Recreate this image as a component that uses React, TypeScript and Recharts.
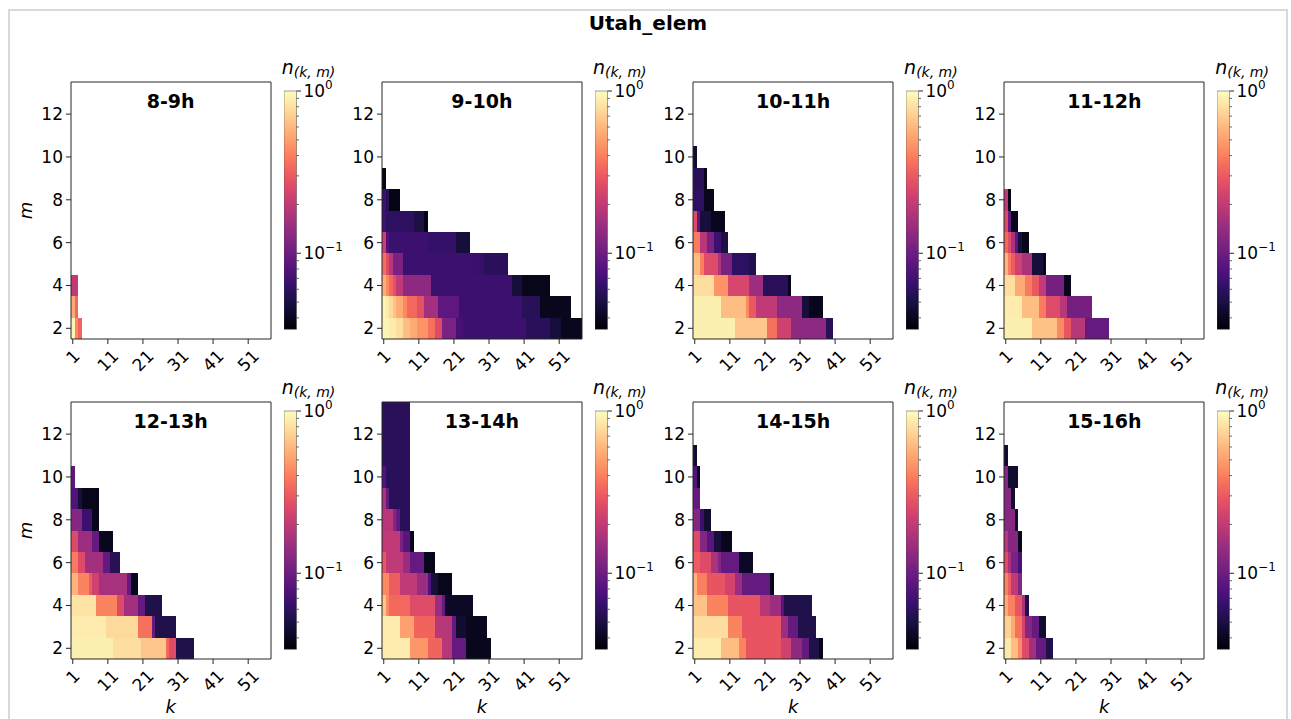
import React from 'react';
import { ScatterChart, Scatter, XAxis, YAxis, ReferenceArea } from 'recharts';

// each cell run: [m, first k, last k, n(k,m)]
type Run = [number, number, number, number];

const hours = ['8-9h', '9-10h', '10-11h', '11-12h', '12-13h', '13-14h', '14-15h', '15-16h'];

const h8_9: Run[] = [
  [4, 1, 2, 0.197],
  [3, 1, 1, 0.544], [3, 2, 2, 0.339],
  [2, 1, 1, 0.935], [2, 2, 2, 0.43], [2, 3, 3, 0.328],
];

const h9_10: Run[] = [
  [9, 1, 1, 0.038],
  [8, 1, 1, 0.067], [8, 2, 2, 0.057], [8, 3, 5, 0.038],
  [7, 1, 1, 0.067], [7, 2, 9, 0.06], [7, 10, 12, 0.051], [7, 13, 13, 0.038],
  [6, 1, 1, 0.218], [6, 2, 2, 0.079], [6, 3, 13, 0.067], [6, 14, 21, 0.063], [6, 22, 25, 0.048],
  [5, 1, 1, 0.363], [5, 2, 2, 0.259], [5, 3, 3, 0.184], [5, 4, 6, 0.111], [5, 7, 26, 0.067], [5, 27, 29, 0.065], [5, 30, 36, 0.058],
  [4, 1, 1, 0.563], [4, 2, 2, 0.43], [4, 3, 3, 0.339], [4, 4, 4, 0.277], [4, 5, 6, 0.197], [4, 7, 14, 0.132], [4, 15, 37, 0.067], [4, 38, 40, 0.048], [4, 41, 48, 0.039],
  [3, 1, 1, 0.935], [3, 2, 2, 0.845], [3, 3, 3, 0.763], [3, 4, 4, 0.644], [3, 5, 6, 0.544], [3, 7, 7, 0.43], [3, 8, 10, 0.339], [3, 11, 12, 0.277], [3, 13, 16, 0.156], [3, 17, 22, 0.088], [3, 23, 40, 0.067], [3, 41, 45, 0.057], [3, 46, 54, 0.04],
  [2, 1, 2, 0.935], [2, 3, 4, 0.87], [2, 5, 6, 0.789], [2, 7, 8, 0.623], [2, 9, 10, 0.544], [2, 11, 13, 0.46], [2, 14, 15, 0.363], [2, 16, 17, 0.259], [2, 18, 21, 0.111], [2, 22, 23, 0.072], [2, 24, 41, 0.067], [2, 42, 48, 0.058], [2, 49, 51, 0.048], [2, 52, 57, 0.04],
];

const h10_11: Run[] = [
  [10, 1, 1, 0.045],
  [9, 1, 3, 0.057], [9, 4, 4, 0.039],
  [8, 1, 3, 0.06], [8, 4, 6, 0.039],
  [7, 1, 1, 0.259], [7, 2, 2, 0.088], [7, 3, 5, 0.048], [7, 6, 9, 0.039],
  [6, 1, 2, 0.388], [6, 3, 4, 0.184], [6, 5, 6, 0.111], [6, 7, 8, 0.067], [6, 9, 10, 0.051],
  [5, 1, 2, 0.623], [5, 3, 3, 0.401], [5, 4, 7, 0.259], [5, 8, 8, 0.172], [5, 9, 11, 0.111], [5, 12, 16, 0.06], [5, 17, 18, 0.053],
  [4, 1, 6, 0.789], [4, 7, 10, 0.46], [4, 11, 16, 0.242], [4, 17, 20, 0.151], [4, 21, 27, 0.058], [4, 28, 28, 0.039],
  [3, 1, 8, 0.903], [3, 9, 15, 0.623], [3, 16, 16, 0.43], [3, 17, 18, 0.296], [3, 19, 24, 0.197], [3, 25, 31, 0.132], [3, 32, 33, 0.048], [3, 34, 37, 0.039],
  [2, 1, 12, 0.903], [2, 13, 21, 0.666], [2, 22, 24, 0.363], [2, 25, 28, 0.226], [2, 29, 38, 0.132], [2, 39, 40, 0.057],
];

const h11_12: Run[] = [
  [8, 1, 1, 0.197], [8, 2, 2, 0.039],
  [7, 1, 1, 0.259], [7, 2, 2, 0.094], [7, 3, 4, 0.039],
  [6, 1, 1, 0.339], [6, 2, 2, 0.259], [6, 3, 3, 0.167], [6, 4, 4, 0.088], [6, 5, 5, 0.048], [6, 6, 7, 0.039],
  [5, 1, 1, 0.582], [5, 2, 2, 0.388], [5, 3, 3, 0.306], [5, 4, 5, 0.226], [5, 6, 8, 0.167], [5, 9, 11, 0.048], [5, 12, 12, 0.039],
  [4, 1, 3, 0.789], [4, 4, 6, 0.544], [4, 7, 8, 0.388], [4, 9, 10, 0.296], [4, 11, 12, 0.197], [4, 13, 17, 0.107], [4, 18, 19, 0.039],
  [3, 1, 5, 0.873], [3, 6, 10, 0.623], [3, 11, 12, 0.388], [3, 13, 16, 0.259], [3, 17, 18, 0.184], [3, 19, 25, 0.107],
  [2, 1, 8, 0.903], [2, 9, 15, 0.644], [2, 16, 17, 0.43], [2, 18, 19, 0.286], [2, 20, 23, 0.184], [2, 24, 30, 0.094],
];

const h12_13: Run[] = [
  [10, 1, 1, 0.088],
  [9, 1, 2, 0.079], [9, 3, 3, 0.048], [9, 4, 8, 0.039],
  [8, 1, 3, 0.123], [8, 4, 6, 0.067], [8, 7, 8, 0.039],
  [7, 1, 2, 0.259], [7, 3, 6, 0.151], [7, 7, 8, 0.094], [7, 9, 12, 0.04],
  [6, 1, 2, 0.388], [6, 3, 4, 0.259], [6, 5, 9, 0.156], [6, 10, 11, 0.094], [6, 12, 14, 0.057],
  [5, 1, 2, 0.582], [5, 3, 5, 0.415], [5, 6, 6, 0.306], [5, 7, 8, 0.226], [5, 9, 16, 0.161], [5, 17, 17, 0.094], [5, 18, 19, 0.039],
  [4, 1, 7, 0.816], [4, 8, 13, 0.415], [4, 14, 15, 0.259], [4, 16, 19, 0.156], [4, 20, 21, 0.094], [4, 22, 26, 0.053],
  [3, 1, 10, 0.873], [3, 11, 19, 0.763], [3, 20, 23, 0.363], [3, 24, 24, 0.094], [3, 25, 30, 0.053],
  [2, 1, 12, 0.903], [2, 13, 20, 0.789], [2, 21, 27, 0.666], [2, 28, 28, 0.339], [2, 29, 30, 0.259], [2, 31, 35, 0.053],
];

const h13_14: Run[] = [
  [13, 1, 8, 0.058],
  [12, 1, 8, 0.058],
  [11, 1, 8, 0.058],
  [10, 1, 1, 0.079], [10, 2, 8, 0.058],
  [9, 1, 1, 0.167], [9, 2, 2, 0.094], [9, 3, 8, 0.058],
  [8, 1, 3, 0.184], [8, 4, 4, 0.123], [8, 5, 5, 0.094], [8, 6, 8, 0.058],
  [7, 1, 5, 0.197], [7, 6, 6, 0.111], [7, 7, 8, 0.085], [7, 9, 9, 0.039],
  [6, 1, 1, 0.296], [6, 2, 6, 0.197], [6, 7, 8, 0.146], [6, 9, 12, 0.094], [6, 13, 15, 0.039],
  [5, 1, 2, 0.43], [5, 3, 5, 0.306], [5, 6, 10, 0.197], [5, 11, 13, 0.146], [5, 14, 14, 0.079], [5, 15, 16, 0.048], [5, 17, 20, 0.039],
  [4, 1, 1, 0.666], [4, 2, 2, 0.43], [4, 3, 8, 0.339], [4, 9, 15, 0.259], [4, 16, 17, 0.146], [4, 18, 18, 0.094], [4, 19, 26, 0.042],
  [3, 1, 5, 0.873], [3, 6, 9, 0.508], [3, 10, 15, 0.328], [3, 16, 20, 0.184], [3, 21, 21, 0.094], [3, 22, 24, 0.045], [3, 25, 30, 0.04],
  [2, 1, 8, 0.873], [2, 9, 13, 0.475], [2, 14, 17, 0.328], [2, 18, 20, 0.184], [2, 21, 24, 0.094], [2, 25, 31, 0.04],
];

const h14_15: Run[] = [
  [11, 1, 1, 0.045],
  [10, 1, 1, 0.079], [10, 2, 2, 0.04],
  [9, 1, 2, 0.094],
  [8, 1, 2, 0.123], [8, 3, 3, 0.067], [8, 4, 5, 0.045],
  [7, 1, 2, 0.259], [7, 3, 4, 0.123], [7, 5, 6, 0.085], [7, 7, 8, 0.048], [7, 9, 11, 0.039],
  [6, 1, 2, 0.306], [6, 3, 5, 0.259], [6, 6, 7, 0.167], [6, 8, 8, 0.123], [6, 9, 13, 0.094], [6, 14, 17, 0.042],
  [5, 1, 1, 0.582], [5, 2, 4, 0.401], [5, 5, 9, 0.286], [5, 10, 12, 0.234], [5, 13, 14, 0.151], [5, 15, 22, 0.094], [5, 23, 23, 0.039],
  [4, 1, 4, 0.644], [4, 5, 10, 0.415], [4, 11, 19, 0.286], [4, 20, 22, 0.184], [4, 23, 25, 0.151], [4, 26, 26, 0.085], [4, 27, 34, 0.053],
  [3, 1, 10, 0.789], [3, 11, 14, 0.415], [3, 15, 25, 0.286], [3, 26, 27, 0.151], [3, 28, 30, 0.094], [3, 31, 35, 0.053],
  [2, 1, 8, 0.873], [2, 9, 13, 0.623], [2, 14, 15, 0.415], [2, 16, 25, 0.286], [2, 26, 28, 0.226], [2, 29, 31, 0.132], [2, 32, 33, 0.094], [2, 34, 36, 0.053], [2, 37, 37, 0.039],
];

const h15_16: Run[] = [
  [11, 1, 1, 0.045],
  [10, 1, 1, 0.123], [10, 2, 4, 0.045],
  [9, 1, 2, 0.123], [9, 3, 3, 0.045],
  [8, 1, 3, 0.123], [8, 4, 4, 0.045],
  [7, 1, 1, 0.184], [7, 2, 4, 0.123], [7, 5, 5, 0.039],
  [6, 1, 1, 0.259], [6, 2, 2, 0.167], [6, 3, 4, 0.111], [6, 5, 5, 0.074],
  [5, 1, 1, 0.415], [5, 2, 2, 0.306], [5, 3, 4, 0.197], [5, 5, 5, 0.123],
  [4, 1, 1, 0.544], [4, 2, 3, 0.401], [4, 4, 5, 0.286], [4, 6, 6, 0.167], [4, 7, 7, 0.053],
  [3, 1, 2, 0.713], [3, 3, 3, 0.544], [3, 4, 5, 0.363], [3, 6, 6, 0.234], [3, 7, 8, 0.123], [3, 9, 10, 0.094], [3, 11, 12, 0.045],
  [2, 1, 2, 0.845], [2, 3, 4, 0.623], [2, 5, 5, 0.43], [2, 6, 7, 0.259], [2, 8, 9, 0.156], [2, 10, 12, 0.094], [2, 13, 14, 0.053],
];

const panelCells = [h8_9, h9_10, h10_11, h11_12, h12_13, h13_14, h14_15, h15_16];

const kTicks = [1, 11, 21, 31, 41, 51];
const mTicks = [2, 4, 6, 8, 10, 12];
const cbarMajor = [0.1, 1];
const cbarMinor = [0.04, 0.05, 0.06, 0.07, 0.08, 0.09, 0.2, 0.3, 0.4, 0.5, 0.6, 0.7, 0.8, 0.9];
const N_MIN = 0.034;
const N_MAX = 1;

// magma colormap, sampled at 17 even steps
const MAGMA = [
  '#000004', '#0c0926', '#1d1147', '#36106b', '#51127c', '#6a1c81', '#832681', '#9c2e7f',
  '#b73779', '#d0416f', '#e75263', '#f56b5c', '#fc8961', '#fea772', '#fec488', '#fde2a3', '#fcfdbf',
];

const hexToRgb = (h: string) => [1, 3, 5].map((i) => parseInt(h.slice(i, i + 2), 16));

const magma = (t: number) => {
  const x = Math.min(1, Math.max(0, t)) * (MAGMA.length - 1);
  const i = Math.min(MAGMA.length - 2, Math.floor(x));
  const f = x - i;
  const a = hexToRgb(MAGMA[i]);
  const b = hexToRgb(MAGMA[i + 1]);
  const c = a.map((v, j) => Math.round(v + (b[j] - v) * f));
  return `rgb(${c[0]},${c[1]},${c[2]})`;
};

const colorOf = (n: number) =>
  magma((Math.log10(n) - Math.log10(N_MIN)) / (Math.log10(N_MAX) - Math.log10(N_MIN)));

const FONT = 'DejaVu Sans';
const INK = '#262626';

// layout of one heatmap panel
const PLOT_W = 200;
const PLOT_H = 257;
const MARGIN = { top: 20, right: 5, bottom: 0, left: 5 };
const Y_W = 40;
const X_H = 50;
const CHART_W = MARGIN.left + Y_W + PLOT_W + MARGIN.right;
const CHART_H = MARGIN.top + PLOT_H + X_H;
const COL_STEP = 311.2;
const ROW_STEP = 320;
const PLOT_X0 = 70.7;
const PLOT_Y0 = 82;
const CB_W = 12.5;
const CB_H = 238.3;
const CB_PAD = 16;
const CB_AXIS_W = 50;

const KTick = (props: any) => {
  const { x, y, payload } = props;
  const label = String(payload.value);
  const half = (label.length * 10.8 + 12.3) * 0.354;
  const cy = y - 7 + 9.5 + half;
  return (
    <text
      x={x}
      y={cy}
      textAnchor="middle"
      dominantBaseline="central"
      transform={`rotate(-45 ${x} ${cy})`}
      fontSize={17}
      fontFamily={FONT}
      fill="#000"
    >
      {label}
    </text>
  );
};

const CbTick = (props: any) => {
  const { x, y, payload } = props;
  const v = payload.value;
  const major = cbarMajor.includes(v);
  return (
    <g>
      <line x1={x} x2={x + (major ? 4.5 : 2.5)} y1={y} y2={y} stroke={INK} strokeWidth={major ? 1 : 0.7} />
      {major && (
        <text x={x + 7} y={y} dy="0.36em" fontSize={17} fontFamily={FONT} fill="#000">
          10
          <tspan dy={-8} fontSize={12}>{v === 1 ? '0' : '\u22121'}</tspan>
        </text>
      )}
    </g>
  );
};

const Heatmap = ({ cells }: { cells: Run[] }) => {
  const centers = cells.map(([m, a, b]) => ({ k: (a + b) / 2, m }));
  return (
    <ScatterChart width={CHART_W} height={CHART_H} margin={MARGIN}>
      <XAxis
        type="number"
        dataKey="k"
        domain={[0.5, 57.5]}
        allowDataOverflow
        ticks={kTicks}
        interval={0}
        axisLine={false}
        tickLine={{ stroke: INK }}
        tickSize={5}
        tickMargin={2}
        height={X_H}
        tick={<KTick />}
      />
      <YAxis
        type="number"
        dataKey="m"
        domain={[1.5, 13.5]}
        allowDataOverflow
        ticks={mTicks}
        interval={0}
        axisLine={false}
        tickLine={{ stroke: INK }}
        tickSize={5}
        tickMargin={3}
        width={Y_W}
        tick={{ fontSize: 17, fill: '#000', fontFamily: FONT }}
      />
      <Scatter data={centers} isAnimationActive={false} shape={() => <g />} />
      {cells.map(([m, a, b, n], i) => (
        <ReferenceArea
          key={i}
          x1={a - 0.5}
          x2={b + 0.5}
          y1={m - 0.5}
          y2={m + 0.5}
          fill={colorOf(n)}
          fillOpacity={1}
          stroke="none"
          shapeRendering="crispEdges"
        />
      ))}
      <ReferenceArea x1={0.5} x2={57.5} y1={1.5} y2={13.5} fill="none" stroke={INK} strokeWidth={1} />
    </ScatterChart>
  );
};

const ColorBar = ({ id }: { id: string }) => (
  <ScatterChart
    width={CB_W + CB_AXIS_W}
    height={CB_H + 2 * CB_PAD}
    margin={{ top: CB_PAD, right: 0, bottom: CB_PAD, left: 0 }}
  >
    <defs>
      <linearGradient id={id} x1="0" y1="1" x2="0" y2="0">
        {MAGMA.map((c, i) => (
          <stop key={i} offset={i / (MAGMA.length - 1)} stopColor={c} />
        ))}
      </linearGradient>
    </defs>
    <XAxis type="number" dataKey="x" domain={[0, 1]} hide />
    <YAxis
      type="number"
      dataKey="y"
      scale="log"
      domain={[N_MIN, N_MAX]}
      allowDataOverflow
      orientation="right"
      ticks={[...cbarMinor, ...cbarMajor]}
      interval={0}
      axisLine={false}
      tickLine={false}
      tickSize={0}
      tickMargin={0}
      width={CB_AXIS_W}
      tick={<CbTick />}
    />
    <Scatter data={[{ x: 0, y: N_MIN }, { x: 1, y: N_MAX }]} isAnimationActive={false} shape={() => <g />} />
    <ReferenceArea x1={0} x2={1} y1={N_MIN} y2={N_MAX} fill={`url(#${id})`} fillOpacity={1} stroke="#444" strokeWidth={0.5} />
  </ScatterChart>
);

export default function App() {
  const panels = hours.map((title, i) => {
    const col = i % 4;
    const row = Math.floor(i / 4);
    return { title, cells: panelCells[i], col, row, px: PLOT_X0 + col * COL_STEP, py: PLOT_Y0 + row * ROW_STEP };
  });

  return (
    <div style={{ position: 'absolute', left: 0, top: 0, width: 1291, height: 719, overflow: 'hidden', background: '#fff' }}>
      <div
        style={{
          position: 'absolute', left: 8, top: 9, width: 1280, height: 730,
          border: '2px solid #d9d9d9', boxSizing: 'border-box',
        }}
      />
      {panels.map((p) => (
        <React.Fragment key={p.title}>
          <div style={{ position: 'absolute', left: p.px - MARGIN.left - Y_W, top: p.py - MARGIN.top }}>
            <Heatmap cells={p.cells} />
          </div>
          <div style={{ position: 'absolute', left: p.px + PLOT_W + 13, top: p.py + 8.7 - CB_PAD }}>
            <ColorBar id={`magma-${p.col}-${p.row}`} />
          </div>
        </React.Fragment>
      ))}
      <svg width={1291} height={719} style={{ position: 'absolute', left: 0, top: 0, pointerEvents: 'none' }} fontFamily={FONT}>
        <text x={648} y={30} textAnchor="middle" fontSize={20} fontWeight="bold">Utah_elem</text>
        {panels.map((p) => (
          <g key={p.title}>
            <text x={p.px + PLOT_W / 2} y={p.py + 26} textAnchor="middle" fontSize={19} fontWeight="bold">{p.title}</text>
            <text x={p.px + PLOT_W + 11} y={p.py - 8} fontSize={19} fontStyle="italic">
              n
              <tspan dy={3} fontSize={14}>(k, m)</tspan>
            </text>
            {p.col === 0 && (
              <text
                x={25}
                y={p.py + PLOT_H / 2}
                textAnchor="middle"
                dominantBaseline="central"
                fontSize={18}
                fontStyle="italic"
                transform={`rotate(-90 25 ${p.py + PLOT_H / 2})`}
              >
                m
              </text>
            )}
            {p.row === 1 && (
              <text x={p.px + PLOT_W / 2} y={713} textAnchor="middle" fontSize={18} fontStyle="italic">k</text>
            )}
          </g>
        ))}
      </svg>
    </div>
  );
}
